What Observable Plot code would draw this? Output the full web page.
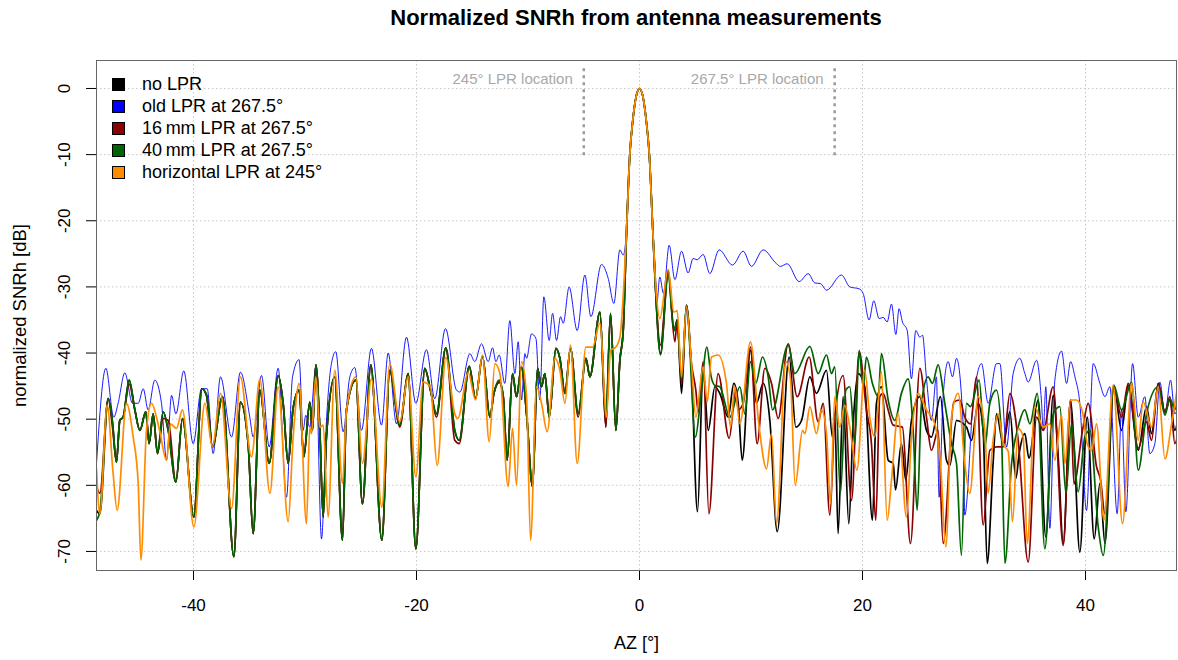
<!DOCTYPE html>
<html><head><meta charset="utf-8">
<script src="https://cdn.jsdelivr.net/npm/d3@7"></script>
<script src="https://cdn.jsdelivr.net/npm/@observablehq/plot@0.6"></script>
<style>
body{margin:0;background:#fff;font-family:"Liberation Sans",Arial,sans-serif;}
#wrap{position:relative;width:1178px;height:660px;}
#title{position:absolute;left:96px;width:1080px;top:5px;text-align:center;font-weight:bold;font-size:22px;color:#000;}
#legend{position:absolute;left:112px;top:73px;font-size:18px;color:#000;}
.item{height:22px;display:flex;align-items:center;white-space:nowrap;}
.sw{width:11px;height:11px;border:1px solid #000;margin-right:17px;}
</style></head><body>
<div id="wrap"><div id="chart"></div>
<div id="title">Normalized SNRh from antenna measurements</div>
<div id="legend"></div></div>
<script>
const xTicks = [-40, -20, 0, 20, 40];
const yTicks = [0, -10, -20, -30, -40, -50, -60, -70];
const seriesNames = ["no LPR", "old LPR at 267.5°", "16\u2009mm LPR at 267.5°", "40\u2009mm LPR at 267.5°", "horizontal LPR at 245°"];
const seriesColors = ["#000000", "#0000ff", "#8b0000", "#006400", "#ff8c00"];
const lprPositions = [-5, 17.5];
const lprLabels = ["245° LPR location", "267.5° LPR location"];

const noLPR = [[-48.70,-63.8],[-48.40,-64.3],[-47.65,-46.9],[-47.27,-50.4],[-46.91,-56.5],[-46.61,-50.2],[-46.31,-49.7],[-45.77,-44.1],[-45.26,-48.6],[-44.81,-51.7],[-44.28,-48.9],[-43.98,-53.7],[-43.62,-49.2],[-43.23,-55.2],[-42.72,-48.9],[-42.27,-51.7],[-41.58,-59.5],[-40.99,-49.9],[-39.97,-64.8],[-39.25,-45.4],[-38.83,-46.4],[-38.30,-54.2],[-37.40,-46.6],[-36.38,-70.8],[-35.79,-47.4],[-35.10,-53.7],[-34.65,-67.3],[-34.05,-45.6],[-33.21,-56.7],[-32.41,-43.4],
[-31.96,-47.6],[-31.51,-56.7],[-31.07,-48.4],[-30.53,-45.6],[-30.11,-55.7],[-29.57,-47.4],[-29.33,-51.7],[-29.03,-41.8],[-28.67,-51.7],[-28.37,-64.8],[-28.08,-52.7],[-27.33,-43.6],[-26.64,-68.3],[-26.28,-48.6],[-25.44,-44.1],[-24.85,-62.8],[-24.10,-41.8],[-23.11,-68.3],[-22.40,-42.6],[-21.50,-50.9],[-20.75,-43.1],[-20.06,-69.6],[-19.26,-42.3],[-18.75,-45.6],[-18.21,-49.2],[-17.37,-39.2],[-16.57,-51.7],
[-16.17,-53.2],[-15.27,-42.0],[-14.71,-46.9],[-14.08,-40.5],[-13.42,-49.7],[-13.06,-46.1],[-12.58,-44.4],[-12.22,-46.6],[-11.87,-56.2],[-11.39,-43.1],[-11.03,-46.6],[-10.58,-42.1],[-10.13,-49.2],[-9.59,-60.2],[-9.15,-42.3],[-8.79,-45.1],[-8.49,-43.1],[-8.10,-49.7],[-7.50,-39.3],[-7.14,-40.8],[-6.69,-46.1],[-6.19,-39.3],[-5.50,-49.2],[-4.81,-40.8],[-4.45,-43.6],[-3.55,-33.8],[-3.02,-51.2],[-2.60,-34.0],[-2.12,-51.7],[-1.76,-41.1],[-1.46,-36.6],
[-1.15,-21.0],[-0.87,-10.0],[-0.6,-4.8],[-0.3,-1.2],[0,0],[0.3,-1.2],[0.6,-4.8],[0.88,-10.0],[1.18,-21.0],[1.40,-29.0],
[1.88,-40.1],[2.57,-27.5],[3.11,-36.6],[3.38,-35.0],[3.77,-46.1],[4.21,-32.8],[4.66,-42.6],[5.20,-64.0],[5.71,-42.6],[6.16,-51.7],[6.76,-45.1],[7.20,-46.1],[7.95,-49.7],[8.46,-44.6],[8.85,-47.6],[9.21,-56.2],[9.95,-39.6],[10.49,-47.6],[11.09,-44.6],[11.69,-50.2],[12.35,-67.0],[13.42,-40.6],[14.02,-51.2],[14.53,-50.2],[15.28,-43.6],[15.87,-46.1],
[16.77,-42.6],[17.30,-52.7],[17.51,-49.2],[17.81,-67.3],[18.26,-46.6],[18.77,-65.8],[19.16,-50.7],[19.61,-43.1],[20.20,-45.1],[20.89,-65.3],[21.25,-47.6],[21.70,-45.1],[22.30,-56.2],[22.75,-56.7],[22.96,-60.7],[23.49,-53.7],[23.88,-59.2],[24.39,-50.2],[25.14,-46.6],[25.74,-51.7],[26.18,-52.7],[26.99,-46.6],[27.53,-56.2],[27.83,-57.0],[28.43,-50.2],[29.32,-51.2],[29.77,-53.2],[30.37,-47.6],[30.82,-51.7],[31.18,-71.8],[31.71,-56.7],
[32.02,-49.2],[32.62,-53.7],[33.22,-48.9],[33.75,-59.0],[34.05,-55.2],[34.56,-52.2],[34.92,-55.9],[35.76,-47.1],[36.44,-67.8],[37.10,-46.4],[37.55,-55.7],[38.00,-68.8],[38.66,-47.1],[38.96,-53.7],[39.49,-70.1],[40.15,-49.7],[40.78,-68.1],[41.29,-59.7],[41.74,-68.8],[42.54,-44.9],[43.23,-51.7],[43.83,-44.9],[44.73,-54.7],[45.47,-48.1],[45.92,-52.2],[46.52,-44.6],[47.12,-48.9],[47.57,-47.1],[48.01,-51.7],[48.34,-49.2]];

const oldLPR = [[-48.70,-56.7],[-47.86,-42.3],[-47.15,-49.7],[-46.76,-47.6],[-46.16,-43.0],[-45.47,-47.6],[-44.96,-47.6],[-44.51,-45.4],[-44.07,-48.6],[-43.47,-44.1],[-42.87,-47.6],[-42.42,-56.2],[-41.97,-46.4],[-41.58,-49.2],[-40.87,-42.7],[-40.03,-53.7],[-39.28,-45.4],[-38.77,-45.4],[-38.24,-55.2],[-37.58,-43.6],[-36.59,-52.7],[-35.79,-42.9],[-34.95,-49.7],[-34.65,-52.7],[-33.90,-43.4],[-33.21,-54.2],[-32.41,-42.3],
[-31.66,-61.8],[-31.12,-43.6],[-30.53,-41.0],[-30.17,-51.7],[-29.93,-49.4],[-29.57,-51.2],[-29.03,-42.1],[-28.52,-68.1],[-28.08,-50.4],[-27.63,-41.6],[-27.24,-39.8],[-26.58,-51.9],[-25.98,-43.6],[-25.53,-42.2],[-24.94,-51.7],[-24.04,-39.3],[-23.14,-50.9],[-22.54,-40.0],[-21.80,-50.7],[-20.90,-37.6],[-20.06,-47.6],[-19.11,-39.5],[-18.36,-46.9],[-17.40,-36.3],[-16.42,-45.6],
[-16.11,-45.9],[-15.21,-40.1],[-14.77,-41.3],[-14.17,-38.6],[-13.57,-41.3],[-13.18,-39.2],[-12.88,-41.3],[-12.58,-40.3],[-12.08,-44.6],[-11.63,-35.1],[-11.18,-43.1],[-10.88,-38.3],[-10.58,-47.1],[-10.28,-40.1],[-10.13,-40.8],[-9.68,-37.1],[-9.29,-37.8],[-8.94,-47.1],[-8.58,-31.5],[-8.10,-38.1],[-7.80,-34.0],[-7.44,-38.1],[-7.08,-34.5],[-6.84,-35.5],[-6.31,-30.0],[-5.59,-36.6],[-4.90,-28.2],[-4.36,-34.5],[-3.41,-26.6],[-2.81,-28.7],[-2.30,-32.5],[-1.76,-24.4],[-1.46,-25.2],
[-1.15,-21.0],[-0.87,-10.0],[-0.6,-4.8],[-0.3,-1.2],[0,0],[0.3,-1.2],[0.6,-4.8],[0.88,-10.0],[1.18,-21.0],[1.40,-27.0],
[1.55,-32.5],[1.82,-28.5],[2.15,-31.0],[2.66,-23.7],[3.17,-28.9],[3.77,-24.6],[4.36,-27.9],[4.81,-25.7],[5.17,-25.9],[5.71,-25.1],[6.31,-28.0],[7.14,-24.4],[8.34,-26.7],[9.30,-24.6],[10.04,-26.9],[11.09,-24.4],[12.29,-26.5],[12.64,-26.9],[13.24,-26.5],[14.32,-29.2],[15.13,-28.0],[15.72,-29.4],[16.23,-29.5],
[16.77,-30.5],[18.11,-28.2],[18.86,-30.0],[19.70,-30.3],[20.06,-31.0],[20.59,-35.0],[21.01,-32.1],[21.49,-34.8],[21.85,-34.6],[22.21,-35.3],[22.60,-32.6],[22.99,-37.2],[23.28,-33.3],[23.58,-35.3],[24.01,-36.6],[24.39,-43.9],[24.78,-36.6],[25.14,-37.6],[25.38,-37.3],[25.74,-43.9],[26.18,-50.2],[26.63,-43.6],[26.87,-61.8],[27.23,-46.6],[27.68,-41.3],[28.07,-43.6],[28.43,-40.8],[29.02,-50.7],[29.17,-64.5],[29.92,-47.6],[30.67,-41.6],[31.27,-47.6],[32.01,-41.6],
[32.32,-41.6],[32.92,-54.2],[33.51,-43.1],[34.11,-40.8],[34.56,-43.1],[34.86,-44.4],[35.61,-41.1],[36.06,-47.6],[36.21,-51.7],[36.44,-45.1],[36.80,-66.5],[37.25,-44.1],[37.85,-39.7],[38.30,-44.6],[38.66,-41.3],[39.05,-43.6],[39.49,-47.6],[40.09,-63.8],[40.69,-41.6],[41.29,-44.6],[41.74,-46.6],[42.18,-45.1],[42.84,-64.3],[43.23,-48.6],[43.62,-64.0],[44.22,-41.6],[44.73,-49.7],[45.32,-46.6],[45.77,-55.2],[46.22,-53.7],[46.67,-44.4],[47.12,-49.2],[47.63,-44.1],[48.01,-49.2],[48.34,-47.6]];

const lpr16 = [[-48.70,-60.2],[-48.40,-61.2],[-47.65,-46.9],[-47.27,-51.2],[-46.91,-56.5],[-46.61,-50.2],[-46.31,-49.7],[-45.77,-44.7],[-45.26,-48.6],[-44.81,-51.7],[-44.28,-48.9],[-43.98,-53.7],[-43.62,-49.2],[-43.23,-55.2],[-42.72,-49.9],[-42.27,-50.2],[-41.58,-59.5],[-40.99,-49.9],[-39.97,-64.8],[-39.25,-45.4],[-38.83,-46.4],[-38.30,-54.2],[-37.40,-46.6],[-36.38,-70.8],[-35.79,-47.4],[-35.10,-53.7],[-34.65,-67.3],[-34.05,-45.6],[-33.21,-56.7],[-32.41,-43.4],
[-31.96,-47.6],[-31.51,-56.7],[-31.07,-48.4],[-30.53,-45.6],[-30.11,-55.7],[-29.57,-47.4],[-29.33,-51.7],[-29.03,-41.8],[-28.67,-51.7],[-28.37,-64.8],[-28.08,-52.7],[-27.33,-43.6],[-26.64,-68.3],[-26.28,-48.6],[-25.44,-44.1],[-24.85,-62.8],[-24.10,-41.8],[-23.11,-68.3],[-22.40,-42.6],[-21.50,-51.2],[-20.75,-43.1],[-20.06,-69.6],[-19.26,-42.3],[-18.75,-45.6],[-18.21,-49.7],[-17.37,-39.2],[-16.57,-53.2],
[-16.17,-53.7],[-15.27,-42.0],[-14.71,-46.9],[-14.08,-40.5],[-13.42,-49.7],[-13.06,-46.1],[-12.58,-44.4],[-12.22,-46.6],[-11.87,-56.2],[-11.39,-43.1],[-11.03,-46.6],[-10.58,-42.1],[-10.13,-49.2],[-9.59,-60.2],[-9.15,-42.3],[-8.79,-45.1],[-8.49,-43.1],[-8.10,-49.7],[-7.50,-39.3],[-7.14,-40.8],[-6.69,-46.1],[-6.19,-39.3],[-5.50,-49.7],[-4.81,-40.8],[-4.45,-43.6],[-3.55,-33.8],[-3.02,-51.2],[-2.60,-34.0],[-2.12,-51.7],[-1.76,-41.1],[-1.46,-36.6],
[-1.15,-21.0],[-0.87,-10.0],[-0.6,-4.8],[-0.3,-1.2],[0,0],[0.3,-1.2],[0.6,-4.8],[0.88,-10.0],[1.18,-21.0],[1.40,-29.0],
[1.88,-38.8],[2.57,-28.0],[3.17,-38.3],[3.38,-35.0],[3.77,-44.6],[4.21,-32.8],[4.66,-41.6],[5.05,-45.6],[5.26,-48.9],[5.71,-41.3],[6.22,-64.3],[7.05,-43.1],[8.04,-52.9],[8.64,-45.6],[8.85,-48.6],[9.30,-47.6],[9.95,-39.1],[10.55,-53.7],[11.24,-42.3],[11.84,-44.6],[12.44,-49.9],[13.33,-38.6],[14.14,-46.6],[15.22,-40.6],[16.02,-50.4],
[16.47,-47.6],[17.07,-64.5],[17.51,-49.7],[18.26,-43.4],[19.01,-62.3],[19.70,-39.8],[20.35,-48.6],[20.80,-53.7],[21.19,-65.3],[21.55,-46.6],[21.85,-46.1],[22.30,-48.6],[22.75,-50.9],[23.58,-51.2],[24.30,-68.8],[25.14,-42.3],[25.74,-49.7],[26.18,-54.7],[26.78,-51.7],[27.23,-68.8],[28.19,-47.4],[28.73,-47.1],[29.17,-49.7],[29.68,-50.7],[30.22,-43.6],[30.82,-66.0],[31.42,-54.7],[32.01,-54.2],
[32.62,-54.2],[33.22,-46.1],[33.96,-53.2],[34.86,-71.6],[35.61,-49.7],[36.21,-51.7],[37.10,-45.1],[38.00,-69.1],[38.66,-47.1],[38.96,-59.8],[39.73,-51.7],[40.24,-47.6],[40.99,-57.2],[41.35,-59.2],[41.74,-64.3],[42.54,-45.1],[43.23,-49.7],[43.83,-44.6],[44.73,-54.4],[45.47,-50.4],[45.92,-53.2],[46.52,-44.6],[47.12,-48.9],[47.57,-46.6],[48.01,-53.7],[48.34,-51.7]];

const lpr40 = [[-48.70,-65.3],[-48.40,-64.0],[-47.65,-46.9],[-47.27,-50.4],[-46.91,-56.5],[-46.61,-50.2],[-46.31,-49.7],[-45.77,-44.1],[-45.26,-48.6],[-44.81,-51.7],[-44.28,-48.9],[-43.98,-53.7],[-43.62,-49.2],[-43.23,-55.2],[-42.72,-48.9],[-42.27,-51.7],[-41.58,-59.5],[-40.99,-49.9],[-39.97,-64.8],[-39.25,-45.4],[-38.83,-46.4],[-38.30,-54.2],[-37.40,-46.6],[-36.38,-70.8],[-35.79,-47.4],[-35.10,-53.7],[-34.65,-67.3],[-34.05,-45.6],[-33.21,-56.7],[-32.41,-43.4],
[-31.96,-47.6],[-31.51,-56.7],[-31.07,-48.4],[-30.53,-45.6],[-30.11,-55.7],[-29.57,-47.4],[-29.33,-51.7],[-29.03,-41.8],[-28.67,-51.7],[-28.37,-64.8],[-28.08,-52.7],[-27.33,-43.6],[-26.64,-68.3],[-26.28,-48.6],[-25.44,-44.1],[-24.85,-62.8],[-24.10,-41.8],[-23.11,-68.3],[-22.40,-42.6],[-21.50,-50.9],[-20.75,-43.1],[-20.06,-69.6],[-19.26,-42.3],[-18.75,-45.6],[-18.21,-49.2],[-17.37,-39.2],[-16.57,-51.7],
[-16.17,-53.2],[-15.27,-42.0],[-14.71,-46.9],[-14.08,-40.5],[-13.42,-49.7],[-13.06,-46.1],[-12.58,-44.1],[-12.22,-46.6],[-11.87,-56.2],[-11.39,-43.1],[-11.03,-46.6],[-10.58,-42.1],[-10.13,-49.2],[-9.59,-60.2],[-9.15,-42.3],[-8.79,-45.1],[-8.49,-43.1],[-8.10,-49.7],[-7.50,-39.3],[-7.14,-40.8],[-6.69,-46.1],[-6.19,-39.3],[-5.50,-49.2],[-4.81,-40.8],[-4.45,-43.6],[-3.55,-33.8],[-3.02,-49.7],[-2.60,-34.0],[-2.12,-51.7],[-1.76,-41.1],[-1.46,-36.6],
[-1.15,-21.0],[-0.87,-10.0],[-0.6,-4.8],[-0.3,-1.2],[0,0],[0.3,-1.2],[0.6,-4.8],[0.88,-10.0],[1.18,-21.0],[1.40,-29.0],
[1.88,-40.3],[2.57,-28.2],[3.08,-36.6],[3.38,-35.3],[3.77,-44.1],[4.21,-32.8],[5.02,-52.7],[5.44,-47.6],[6.04,-39.1],[6.43,-43.6],[6.76,-44.9],[7.20,-45.1],[8.10,-49.7],[9.00,-45.1],[9.45,-49.2],[9.95,-41.3],[10.43,-44.6],[11.03,-40.6],[11.54,-43.6],[11.93,-48.6],[13.33,-38.8],[13.93,-43.1],[15.28,-39.0],[16.02,-43.1],
[16.77,-40.3],[17.22,-43.1],[17.51,-42.1],[18.02,-61.2],[18.50,-45.6],[18.86,-45.1],[19.31,-53.7],[19.70,-39.6],[20.06,-45.1],[20.35,-40.6],[20.89,-44.6],[21.40,-46.6],[21.70,-40.1],[22.30,-47.1],[22.90,-50.2],[23.49,-46.1],[24.09,-43.9],[24.54,-51.7],[24.90,-63.8],[25.29,-47.6],[25.88,-43.6],[26.27,-44.6],[26.78,-41.8],[27.38,-47.6],[27.98,-53.7],[28.43,-56.7],[28.87,-70.6],[29.32,-47.6],[29.68,-48.1],[30.46,-44.1],[30.97,-54.2],[31.42,-47.6],[32.01,-45.6],
[32.47,-52.7],[32.77,-71.8],[33.37,-56.7],[33.96,-51.2],[34.56,-48.6],[35.01,-50.7],[35.67,-46.1],[36.35,-69.6],[37.10,-49.2],[37.70,-48.1],[38.24,-61.2],[38.75,-50.7],[39.34,-61.0],[39.94,-52.7],[40.39,-51.7],[41.14,-66.3],[41.59,-70.6],[42.54,-44.9],[43.23,-48.6],[44.13,-44.4],[44.73,-57.7],[45.47,-49.2],[46.52,-45.1],[47.12,-49.4],[47.57,-46.9],[48.01,-48.6],[48.34,-45.6]];

const horizLPR = [[-48.70,-57.5],[-48.40,-64.3],[-47.74,-47.9],[-47.21,-58.2],[-46.85,-63.8],[-46.01,-47.6],[-45.41,-52.7],[-44.96,-59.7],[-44.72,-71.3],[-44.22,-51.7],[-43.77,-47.6],[-43.08,-51.4],[-42.42,-56.2],[-42.06,-50.7],[-41.53,-51.4],[-40.99,-48.6],[-39.97,-66.3],[-38.98,-47.6],[-38.30,-54.2],[-37.58,-46.1],[-36.59,-63.5],[-35.79,-43.6],[-34.80,-55.7],[-34.05,-43.9],[-33.15,-61.2],[-32.41,-45.1],
[-31.51,-65.5],[-31.07,-52.9],[-30.53,-44.6],[-29.87,-65.8],[-29.57,-51.2],[-29.42,-52.2],[-29.03,-43.6],[-28.67,-51.2],[-28.37,-50.9],[-27.93,-64.8],[-27.33,-42.6],[-26.64,-59.7],[-26.28,-48.6],[-25.44,-43.6],[-24.85,-56.7],[-24.04,-43.9],[-23.11,-63.3],[-22.40,-41.6],[-21.50,-50.4],[-20.75,-43.6],[-20.06,-58.7],[-19.41,-44.4],[-18.75,-45.1],[-18.15,-57.0],[-17.37,-40.7],[-16.57,-49.2],
[-16.30,-49.9],[-15.36,-43.0],[-14.71,-47.1],[-14.08,-40.3],[-13.48,-53.4],[-12.97,-41.6],[-12.52,-43.1],[-11.78,-60.2],[-11.39,-51.4],[-11.03,-60.0],[-10.58,-41.3],[-10.13,-46.6],[-9.77,-68.3],[-9.24,-45.1],[-8.79,-47.6],[-8.28,-51.9],[-7.59,-40.8],[-7.14,-42.6],[-6.69,-47.6],[-6.19,-38.8],[-5.59,-56.7],[-4.81,-39.1],[-4.21,-39.1],[-3.55,-35.5],[-2.96,-49.7],[-2.60,-39.6],[-2.12,-39.1],[-1.76,-37.6],
[-1.15,-21.0],[-0.87,-10.0],[-0.6,-4.8],[-0.3,-1.2],[0,0],[0.3,-1.2],[0.6,-4.8],[0.88,-10.0],[1.18,-21.0],[1.45,-29.5],
[1.82,-34.8],[2.57,-27.4],[3.08,-33.8],[3.38,-33.6],[3.77,-43.6],[4.21,-33.0],[4.66,-41.6],[5.05,-49.7],[5.71,-42.1],[6.07,-47.4],[6.46,-40.6],[7.05,-40.3],[7.80,-44.6],[8.16,-51.2],[8.55,-45.1],[9.00,-50.7],[9.95,-38.3],[10.73,-51.2],[11.39,-57.5],[11.84,-52.2],[12.29,-65.8],[13.12,-41.3],[13.54,-43.9],[13.96,-60.0],[14.62,-51.7],[14.83,-52.2],[15.28,-48.1],[15.87,-52.2],
[16.32,-48.6],[16.77,-52.2],[17.13,-62.8],[17.51,-46.6],[17.96,-51.2],[18.41,-47.9],[18.86,-51.2],[19.50,-57.7],[20.20,-42.6],[20.65,-49.7],[21.10,-52.7],[21.70,-42.8],[22.21,-65.3],[22.60,-59.2],[23.19,-49.2],[23.94,-64.8],[24.39,-52.7],[24.99,-46.1],[25.74,-48.6],[26.48,-50.7],[26.99,-56.7],[27.47,-69.3],[27.98,-49.7],[28.58,-46.1],[29.17,-56.7],[29.62,-61.2],[30.37,-46.6],[30.97,-51.7],[31.27,-61.2],[31.71,-53.2],[32.16,-49.2],
[32.62,-53.7],[33.07,-54.9],[33.45,-65.5],[33.96,-51.4],[34.41,-52.7],[34.77,-68.8],[35.46,-48.1],[36.21,-51.2],[36.80,-50.7],[37.25,-56.2],[37.85,-49.4],[38.15,-56.7],[38.66,-47.1],[39.19,-47.1],[39.73,-48.9],[40.15,-53.7],[40.54,-54.7],[40.99,-50.7],[41.65,-65.3],[42.48,-44.9],[43.32,-65.8],[44.13,-44.6],[44.73,-53.2],[45.17,-47.4],[45.92,-51.2],[46.52,-45.1],[47.12,-56.0],[47.72,-50.7],[48.34,-44.1]];

const seriesData = [noLPR, oldLPR, lpr16, lpr40, horizLPR];
const widths = [1.7, 0.9, 1.7, 1.7, 1.7];

const lineMarks = seriesData.map((arr, i) =>
  Plot.line(arr.map(([x, y]) => ({x, y})), {
    x: "x", y: "y", stroke: seriesColors[i], strokeWidth: widths[i],
    curve: "monotone-x", clip: true
  })
);

const gridStyle = {stroke: "#c8c8c8", strokeOpacity: 1, strokeDasharray: "1.5,2.5", strokeWidth: 1};

const chart = Plot.plot({
  width: 1178, height: 660,
  marginLeft: 96, marginRight: 2, marginTop: 60, marginBottom: 90,
  x: {domain: [-48.7, 48.16]},
  y: {domain: [-72.88, 4.23]},
  style: {fontFamily: "'Liberation Sans', Arial, sans-serif", background: "#fff", color: "#000"},
  marks: [
    Plot.gridX({ticks: xTicks, ...gridStyle}),
    Plot.gridY({ticks: yTicks, ...gridStyle}),
    Plot.axisX({ticks: xTicks, tickSize: 10, tickPadding: 18, fontSize: 17, tickFormat: d => String(d), label: null}),
    Plot.axisY({ticks: yTicks, tickSize: 10, tickFormat: () => "", label: null}),
    Plot.text(yTicks, {y: d => d, text: d => String(d), frameAnchor: "left", textAnchor: "middle", dx: -32, rotate: -90, fontSize: 17, fill: "#000"}),
    ...lineMarks,
    Plot.ruleX(lprPositions, {x: d => d, y1: 3.0, y2: -10.2, stroke: "#9a9a9a", strokeWidth: 2.5, strokeDasharray: "3,4"}),
    Plot.text(lprPositions, {x: d => d, y: 1.35, text: (d, i) => lprLabels[i], textAnchor: "end", dx: -11, fontSize: 15, fill: "#a8a8a8"}),
    Plot.frame({stroke: "#666"}),
    Plot.text(["AZ [°]"], {text: d => d, frameAnchor: "bottom", dy: 78, fontSize: 18, fill: "#000"}),
    Plot.text(["normalized SNRh [dB]"], {text: d => d, frameAnchor: "left", textAnchor: "middle", dx: -76, rotate: -90, fontSize: 18.5, fill: "#000"})
  ]
});
document.getElementById("chart").appendChild(chart);

const legend = document.getElementById("legend");
seriesNames.forEach((name, i) => {
  const row = document.createElement("div");
  row.className = "item";
  const sw = document.createElement("div");
  sw.className = "sw";
  sw.style.background = seriesColors[i];
  const t = document.createElement("span");
  t.textContent = name;
  row.appendChild(sw); row.appendChild(t);
  legend.appendChild(row);
});
</script>
</body></html>
